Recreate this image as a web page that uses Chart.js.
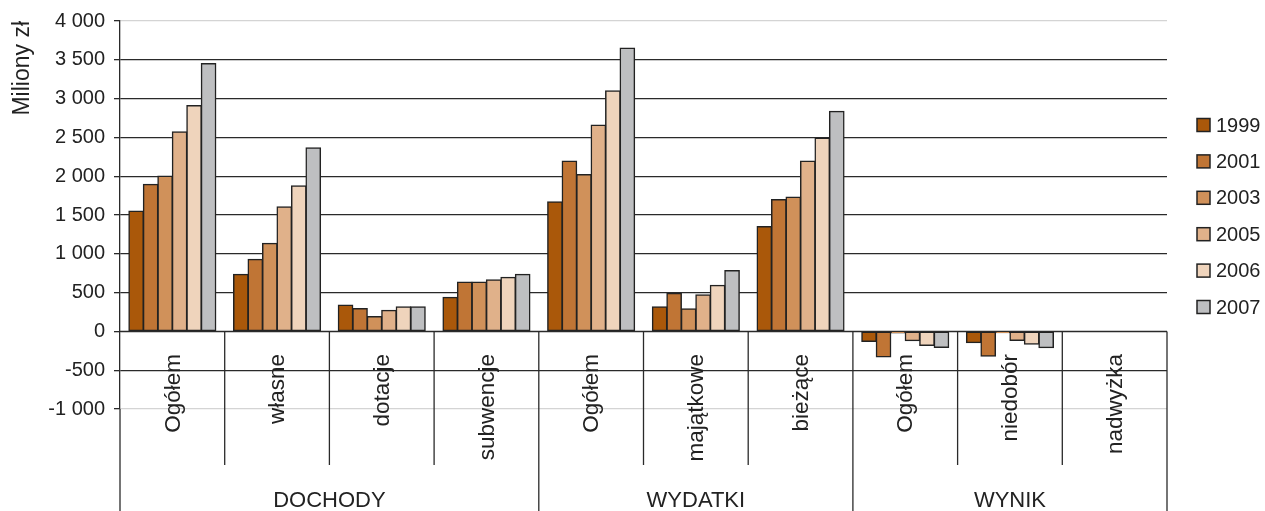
<!DOCTYPE html>
<html>
<head>
<meta charset="utf-8">
<script src="https://cdn.jsdelivr.net/npm/chart.js@4.4.1/dist/chart.umd.min.js"></script>
<style>
  html, body { margin: 0; padding: 0; background: #fff; }
  #wrap { width: 1265px; height: 511px; }
</style>
</head>
<body>
<div id="wrap"><canvas id="chartCanvas" width="1265" height="511"></canvas></div>
<script>
const categories = ['Ogółem', 'własne', 'dotacje', 'subwencje', 'Ogółem', 'majątkowe', 'bieżące', 'Ogółem', 'niedobór', 'nadwyżka'];
const groups = ['DOCHODY', 'WYDATKI', 'WYNIK'];
const groupSizes = [4, 3, 3];
const years = ['1999', '2001', '2003', '2005', '2006', '2007'];
const colors = ['#AA580A', '#C07535', '#D0915A', '#E0B18A', '#EFD4BC', '#BEBFC1'];

const v1999 = [1550, 735, 340, 440, 1670, 315, 1350, -130, -145, 0];
const v2001 = [1895, 930, 295, 635, 2195, 490, 1700, -330, -320, 0];
const v2003 = [2000, 1135, 190, 635, 2020, 290, 1730, -20, -15, 0];
const v2005 = [2570, 1605, 270, 665, 2660, 470, 2195, -120, -115, 0];
const v2006 = [2910, 1875, 315, 695, 3100, 595, 2490, -180, -165, 0];
const v2007 = [3450, 2365, 315, 735, 3650, 785, 2835, -205, -210, 0];
const series = [v1999, v2001, v2003, v2005, v2006, v2007];

const FONT = "'Liberation Sans', Arial, sans-serif";
const TEXT = '#222';

function fmt(v) {
    return String(v).replace(/\B(?=(\d{3})+(?!\d))/g, ' ');
}

// labels under the zero line, separators, group names and the legend
const extras = {
    id: 'extras',
    afterDraw(chart) {
        const ctx = chart.ctx;
        const x = chart.scales.x;
        const y = chart.scales.y;
        const area = chart.chartArea;
        const y0 = y.getPixelForValue(0);
        const H = chart.height;

        ctx.save();
        ctx.strokeStyle = '#2a2a2a';
        ctx.lineWidth = 1.3;

        // zero line on top of bars
        ctx.beginPath();
        ctx.moveTo(area.left, y0);
        ctx.lineTo(area.right, y0);
        ctx.stroke();

        // y axis continues down
        ctx.beginPath();
        ctx.moveTo(area.left, area.bottom);
        ctx.lineTo(area.left, H);
        ctx.stroke();

        // separators
        const groupEnds = [];
        let acc = 0;
        groupSizes.forEach(n => { acc += n; groupEnds.push(acc); });
        for (let i = 1; i <= categories.length; i++) {
            let px;
            if (i < categories.length) {
                px = (x.getPixelForValue(i - 1) + x.getPixelForValue(i)) / 2;
            } else {
                px = area.right;
            }
            const isGroup = groupEnds.includes(i);
            ctx.beginPath();
            ctx.moveTo(px, y0);
            ctx.lineTo(px, isGroup ? H : 465);
            ctx.stroke();
        }

        // category labels
        ctx.fillStyle = TEXT;
        ctx.font = '22.5px ' + FONT;
        ctx.textAlign = 'right';
        ctx.textBaseline = 'middle';
        categories.forEach((c, i) => {
            ctx.save();
            ctx.translate(x.getPixelForValue(i), 354);
            ctx.rotate(-Math.PI / 2);
            ctx.fillText(c, 0, 1);
            ctx.restore();
        });

        // group labels
        ctx.font = '22px ' + FONT;
        ctx.textAlign = 'center';
        ctx.textBaseline = 'alphabetic';
        let start = 0;
        groups.forEach((g, gi) => {
            const end = start + groupSizes[gi];
            const left = start === 0 ? area.left : (x.getPixelForValue(start - 1) + x.getPixelForValue(start)) / 2;
            const right = end === categories.length ? area.right : (x.getPixelForValue(end - 1) + x.getPixelForValue(end)) / 2;
            ctx.fillText(g, (left + right) / 2, 507);
            start = end;
        });

        // legend
        ctx.font = '20px ' + FONT;
        ctx.textAlign = 'left';
        ctx.textBaseline = 'middle';
        chart.data.datasets.forEach((ds, i) => {
            const cy = 125 + i * 36.4;
            ctx.fillStyle = ds.backgroundColor;
            ctx.fillRect(1197, cy - 6.5, 13, 13);
            ctx.lineWidth = 1.5;
            ctx.strokeStyle = '#222';
            ctx.strokeRect(1197, cy - 6.5, 13, 13);
            ctx.fillStyle = TEXT;
            ctx.fillText(ds.label, 1216, cy + 1);
        });
        ctx.restore();
    }
};

const ctx = document.getElementById('chartCanvas').getContext('2d');
const chart = new Chart(ctx, {
    type: 'bar',
    data: {
        labels: categories,
        datasets: years.map((yr, i) => ({
            label: yr,
            data: series[i],
            backgroundColor: colors[i],
            borderColor: '#222',
            borderWidth: 1.5,
            borderSkipped: false,
            inflateAmount: 0.6,
            categoryPercentage: 0.83,
            barPercentage: 1.0
        }))
    },
    options: {
        responsive: false,
        devicePixelRatio: 1,
        animation: false,
        layout: { padding: { left: 0, right: 98, top: 20, bottom: 102 } },
        plugins: {
            legend: { display: false },
            tooltip: { enabled: false }
        },
        scales: {
            x: {
                display: false
            },
            y: {
                min: -1000,
                max: 4000,
                afterFit: s => { s.width = 120; },
                ticks: {
                    stepSize: 500,
                    color: TEXT,
                    padding: 9,
                    font: { family: FONT, size: 20 },
                    callback: v => fmt(v)
                },
                grid: {
                    color: c => (c.tick && (c.tick.value === 4000 || c.tick.value === -1000)) ? '#d4d4d4' : '#2a2a2a',
                    tickColor: '#2a2a2a',
                    tickLength: 6,
                    lineWidth: 1.3
                },
                border: { display: true, color: '#2a2a2a', width: 1.3 },
                title: {
                    display: true,
                    text: 'Miliony zł',
                    align: 'end',
                    color: TEXT,
                    font: { family: FONT, size: 23 },
                    padding: { top: 9, bottom: 0 }
                }
            }
        }
    },
    plugins: [extras]
});
</script>
</body>
</html>
